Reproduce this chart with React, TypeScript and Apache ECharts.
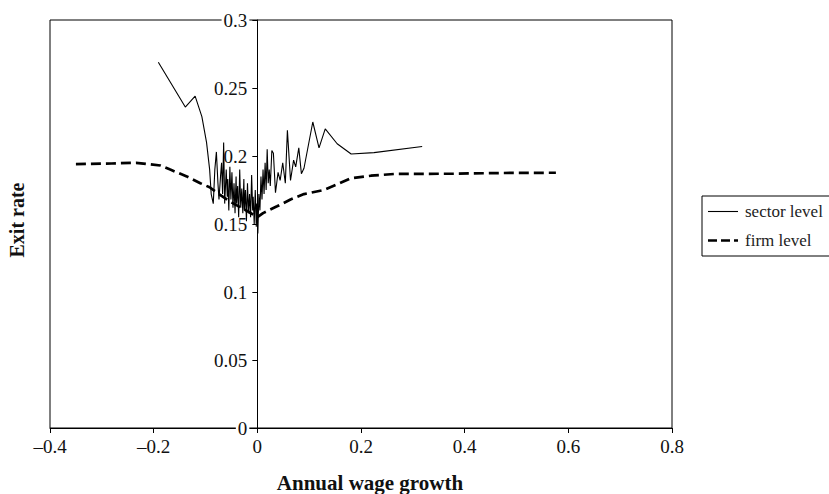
import React, { useEffect, useRef } from "react";
import * as echarts from "echarts";

const sectorX = [
  -0.191, -0.139, -0.12, -0.107, -0.098, -0.092, -0.089, -0.085, -0.082, -0.079,
  -0.076, -0.074, -0.071, -0.069, -0.067, -0.065, -0.063, -0.06, -0.058, -0.057,
  -0.055, -0.053, -0.051, -0.049, -0.047, -0.045, -0.043, -0.041, -0.04, -0.038,
  -0.036, -0.034, -0.032, -0.03, -0.028, -0.026, -0.025, -0.023, -0.021, -0.019,
  -0.017, -0.015, -0.013, -0.011, -0.009, -0.008, -0.006, -0.004, -0.002, -0.001,
  0.001, 0.003, 0.005, 0.007, 0.009, 0.011, 0.013, 0.015, 0.017, 0.019,
  0.021, 0.023, 0.025, 0.028, 0.031, 0.035, 0.04, 0.044, 0.049, 0.054,
  0.058, 0.064, 0.07, 0.074, 0.08, 0.085, 0.09, 0.107, 0.119, 0.131,
  0.154, 0.181, 0.225, 0.318,
];
const sectorY = [
  0.269, 0.236, 0.244, 0.229, 0.21, 0.19, 0.172, 0.165, 0.19, 0.203,
  0.18, 0.168, 0.185, 0.195, 0.172, 0.21, 0.165, 0.19, 0.17, 0.183,
  0.16, 0.192, 0.168, 0.188, 0.162, 0.18, 0.158, 0.185, 0.165, 0.178,
  0.155, 0.19, 0.162, 0.176, 0.158, 0.183, 0.16, 0.175, 0.152, 0.18,
  0.158, 0.172, 0.155, 0.186, 0.16, 0.17, 0.15, 0.175, 0.148, 0.165,
  0.143, 0.172, 0.16, 0.185, 0.168, 0.19, 0.172, 0.195, 0.175, 0.205,
  0.18, 0.19, 0.178, 0.204, 0.202, 0.173, 0.188, 0.182, 0.195, 0.18,
  0.219, 0.182, 0.197, 0.192, 0.206, 0.187, 0.191, 0.225, 0.206, 0.22,
  0.209, 0.2015, 0.2025, 0.207,
];

const firmX = [
  -0.35, -0.281, -0.234, -0.187, -0.168, -0.136, -0.11, -0.092, -0.074, -0.055,
  -0.036, -0.017, 0.0, 0.011, 0.038, 0.064, 0.09, 0.128, 0.153, 0.18,
  0.219, 0.264, 0.379, 0.473, 0.576,
];
const firmY = [
  0.194, 0.1945, 0.195, 0.193, 0.19, 0.185, 0.18, 0.177, 0.172, 0.167,
  0.163, 0.159, 0.155, 0.158, 0.163, 0.168, 0.172, 0.175, 0.179, 0.1836,
  0.1855, 0.1868, 0.187, 0.1875, 0.1877,
];

const legendLabels = ["sector level", "firm level"];
const xTitle = "Annual wage growth";
const yTitle = "Exit rate";

export default function App() {
  const ref = useRef<HTMLDivElement>(null);
  useEffect(() => {
    if (!ref.current) return;
    const chart = echarts.init(ref.current, undefined, { renderer: "svg" });
    const serif = "'Liberation Serif', 'DejaVu Serif', serif";
    const gridLeft = 50;
    const gridRight = 157;
    const xMin = -0.4;
    const xMax = 0.8;
    const plotW = 829 - gridLeft - gridRight;
    const zeroOffset = (-xMin / (xMax - xMin)) * plotW;
    chart.setOption({
      animation: false,
      backgroundColor: "#fff",
      grid: {
        left: gridLeft,
        right: gridRight,
        top: 20,
        bottom: 66,
        show: true,
        borderColor: "#000",
        borderWidth: 1,
        backgroundColor: "transparent",
      },
      xAxis: {
        type: "value",
        min: xMin,
        max: xMax,
        interval: 0.2,
        axisLine: { show: true, onZero: false, lineStyle: { color: "#000", width: 1 } },
        axisTick: { show: true, length: 5, lineStyle: { color: "#000" } },
        splitLine: { show: false },
        axisLabel: {
          color: "#111",
          fontFamily: serif,
          fontSize: 19,
          margin: 9,
          formatter: (v: number) => String(Math.round(v * 10) / 10).replace("-", "\u2013"),
        },
      },
      yAxis: {
        type: "value",
        min: 0,
        max: 0.3,
        interval: 0.05,
        offset: -zeroOffset,
        axisLine: { show: true, onZero: false, lineStyle: { color: "#000", width: 1 } },
        axisTick: { show: true, length: 5, lineStyle: { color: "#000" } },
        splitLine: { show: false },
        axisLabel: {
          color: "#111",
          fontFamily: serif,
          fontSize: 19,
          margin: 8,
          backgroundColor: "#fff",
          padding: [0, 2, 0, 2],
          formatter: (v: number) => String(Math.round(v * 100) / 100),
        },
      },
      series: [
        {
          name: legendLabels[0],
          type: "line",
          showSymbol: false,
          data: sectorX.map((x, i) => [x, sectorY[i]]),
          lineStyle: { color: "#000", width: 1.1 },
          z: 3,
        },
        {
          name: legendLabels[1],
          type: "line",
          showSymbol: false,
          data: firmX.map((x, i) => [x, firmY[i]]),
          lineStyle: { color: "#000", width: 2.7, type: [10, 5] },
          z: 2,
        },
      ],
      graphic: [
        {
          type: "text",
          x: 370,
          y: 483,
          style: {
            text: xTitle,
            font: `bold 21px ${serif}`,
            fill: "#111",
            align: "center",
            verticalAlign: "middle",
          },
        },
        {
          type: "text",
          x: 17,
          y: 220,
          rotation: Math.PI / 2,
          style: {
            text: yTitle,
            font: `bold 20px ${serif}`,
            fill: "#111",
            align: "center",
            verticalAlign: "middle",
          },
        },
        {
          type: "rect",
          shape: { x: 702, y: 196, width: 140, height: 60 },
          style: { fill: "#fff", stroke: "#000", lineWidth: 1 },
        },
        {
          type: "line",
          shape: { x1: 708, y1: 211.5, x2: 738, y2: 211.5 },
          style: { stroke: "#000", lineWidth: 1.1 },
        },
        {
          type: "text",
          x: 745,
          y: 211,
          style: {
            text: legendLabels[0],
            font: `17px ${serif}`,
            fill: "#222",
            verticalAlign: "middle",
          },
        },
        {
          type: "line",
          shape: { x1: 708, y1: 240.5, x2: 738, y2: 240.5 },
          style: { stroke: "#000", lineWidth: 2.7, lineDash: [9, 4] },
        },
        {
          type: "text",
          x: 745,
          y: 240,
          style: {
            text: legendLabels[1],
            font: `17px ${serif}`,
            fill: "#222",
            verticalAlign: "middle",
          },
        },
      ],
    });
    return () => chart.dispose();
  }, []);
  return (
    <div
      ref={ref}
      style={{ position: "fixed", left: 0, top: 0, width: 829, height: 494 }}
    />
  );
}
